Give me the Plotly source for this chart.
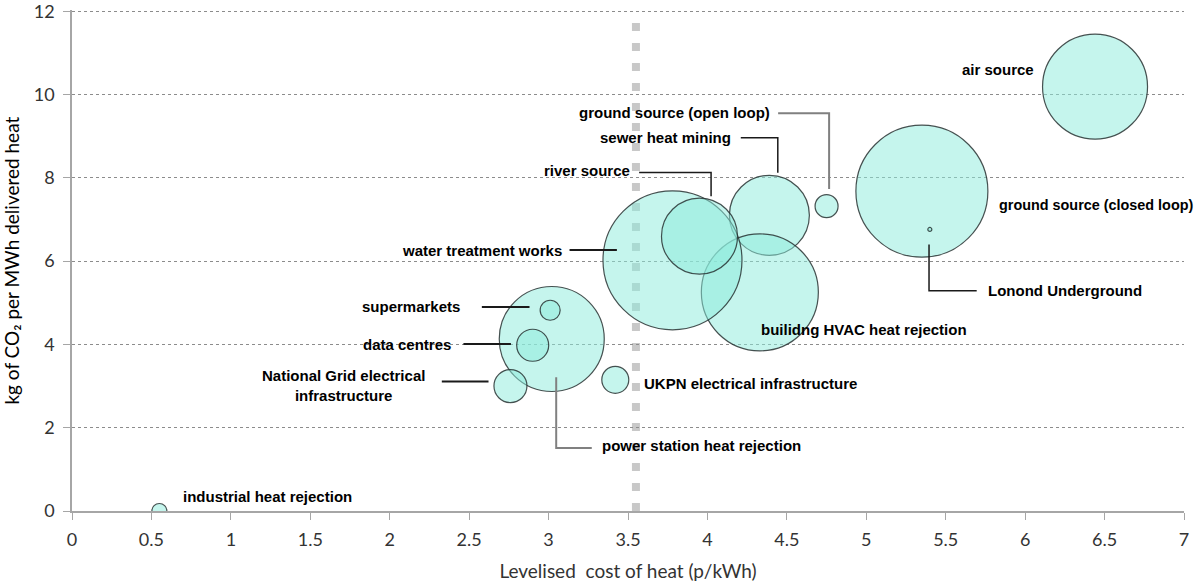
import plotly.graph_objects as go

# ---- data ----
sources = ["air source", "ground source (closed loop)", "Lonond Underground",
           "ground source (open loop)", "sewer heat mining", "builidng HVAC heat rejection",
           "water treatment works", "river source", "power station heat rejection",
           "supermarkets", "data centres", "National Grid electrical infrastructure",
           "UKPN electrical infrastructure", "industrial heat rejection"]
cost_p_kwh = [6.44, 5.35, 5.40, 4.75, 4.39, 4.33, 3.78, 3.95, 3.02, 3.01, 2.90, 2.76, 3.42, 0.55]
co2_kg_mwh = [10.19, 7.68, 6.76, 7.32, 7.10, 5.25, 6.02, 6.60, 4.13, 4.82, 3.98, 3.00, 3.15, 0.0]
bubble_size = [105, 132, 4, 23, 80, 117, 139, 76, 105, 20, 32, 33, 27, 15]
threshold_cost = 3.55

x_ticks = [0, 0.5, 1, 1.5, 2, 2.5, 3, 3.5, 4, 4.5, 5, 5.5, 6, 6.5, 7]
x_tick_text = ["0", "0.5", "1", "1.5", "2", "2.5", "3", "3.5", "4", "4.5", "5", "5.5", "6", "6.5", "7"]
y_ticks = [0, 2, 4, 6, 8, 10, 12]

fig = go.Figure()
fig.add_trace(go.Scatter(
    x=cost_p_kwh, y=co2_kg_mwh, mode="markers", text=sources, hoverinfo="text",
    marker=dict(size=bubble_size, sizemode="diameter", sizeref=1, opacity=1,
                color="rgba(140,235,220,0.5)",
                line=dict(color="rgba(40,50,50,0.85)", width=1.2)),
    showlegend=False,
))

# threshold dashed line
fig.add_shape(type="line", x0=threshold_cost, x1=threshold_cost, y0=0, y1=12,
              xref="x", yref="y", layer="below",
              line=dict(color="#C8C8C8", width=8, dash="8px,12px"))

LBL = dict(family="Liberation Sans, Arial, sans-serif", size=15, color="black")

def label(text, x, y, xanchor, size=15):
    fig.add_annotation(text="<b>%s</b>" % text, x=x, y=y, xref="x", yref="y",
                       xanchor=xanchor, yanchor="middle", showarrow=False,
                       font=dict(LBL, size=size), align="center")

label("air source", 6.07, 10.6, "right")
label("ground source (open loop)", 4.407, 9.57, "right")
label("sewer heat mining", 4.162, 8.98, "right")
label("river source", 3.528, 8.17, "right")
label("water treatment works", 3.098, 6.26, "right")
label("supermarkets", 2.454, 4.90, "right")
label("data centres", 2.398, 4.01, "right")
label("National Grid electrical<br>infrastructure", 1.709, 3.01, "center")
label("UKPN electrical infrastructure", 3.587, 3.07, "left")
label("power station heat rejection", 3.325, 1.58, "left")
label("builidng HVAC heat rejection", 4.327, 4.35, "left")
label("ground source (closed loop)", 5.825, 7.34, "left", size=14.4)
label("Lonond Underground", 5.752, 5.29, "left")
label("industrial heat rejection", 0.683, 0.36, "left")

def leader(pts, color="#1a1a1a", width=2):
    d = "M %f %f " % pts[0] + " ".join("L %f %f" % p for p in pts[1:])
    fig.add_shape(type="path", path=d, xref="x", yref="y",
                  line=dict(color=color, width=width))

leader([(4.445, 9.55), (4.766, 9.55), (4.766, 7.73)], color="#808080", width=2)
leader([(4.21, 8.96), (4.443, 8.96), (4.443, 8.12)], width=1.5)
leader([(3.570, 8.13), (4.023, 8.13), (4.023, 7.56)], width=1.5)
leader([(3.132, 6.27), (3.43, 6.27)])
leader([(2.58, 4.90), (2.88, 4.90)])
leader([(2.464, 4.01), (2.763, 4.01)])
leader([(2.328, 3.11), (2.622, 3.11)])
leader([(3.048, 3.21), (3.048, 1.51), (3.272, 1.51)], color="#808080", width=2)
leader([(5.395, 6.40), (5.395, 5.29), (5.695, 5.29)], width=1.5)

# y-axis title placed as rotated text
fig.add_annotation(text="kg of CO\u2082 per MWh delivered heat", textangle=-90,
                   xref="paper", yref="paper", x=-0.0548, y=0.5,
                   xanchor="center", yanchor="middle", showarrow=False,
                   font=dict(family="Lato, Open Sans, sans-serif", size=19, color="black"))

TICKF = dict(family="Lato, Open Sans, sans-serif", size=18, color="#333333")
fig.update_layout(
    width=1197, height=584,
    margin=dict(l=72, r=13, t=10, b=73, autoexpand=False),
    paper_bgcolor="white", plot_bgcolor="white",
    xaxis=dict(range=[0, 7], tickvals=x_ticks, ticktext=x_tick_text, automargin=False,
               showgrid=False, zeroline=False, showline=True,
               linecolor="#A6A6A6", linewidth=1.5, ticks="outside", ticklen=7,
               tickcolor="#A6A6A6", tickfont=TICKF, ticklabelstandoff=5,
               ticklabeloverflow="allow",
               title=dict(text="Levelised  cost of heat (p/kWh)",
                          font=dict(family="Lato, Open Sans, sans-serif", size=19, color="#333333"),
                          standoff=15)),
    yaxis=dict(range=[0, 12.03], tickvals=y_ticks, showgrid=True, automargin=False,
               gridcolor="#8C8C8C", gridwidth=1, griddash="dot",
               zeroline=False, showline=True, linecolor="#A6A6A6", linewidth=1.5,
               ticks="outside", ticklen=7, tickcolor="#A6A6A6", tickfont=TICKF,
               ticklabelstandoff=5, ticklabeloverflow="allow"),
)

fig.write_html("out.html", config={"displayModeBar": False},
               post_script="document.body.style.margin='0';")
